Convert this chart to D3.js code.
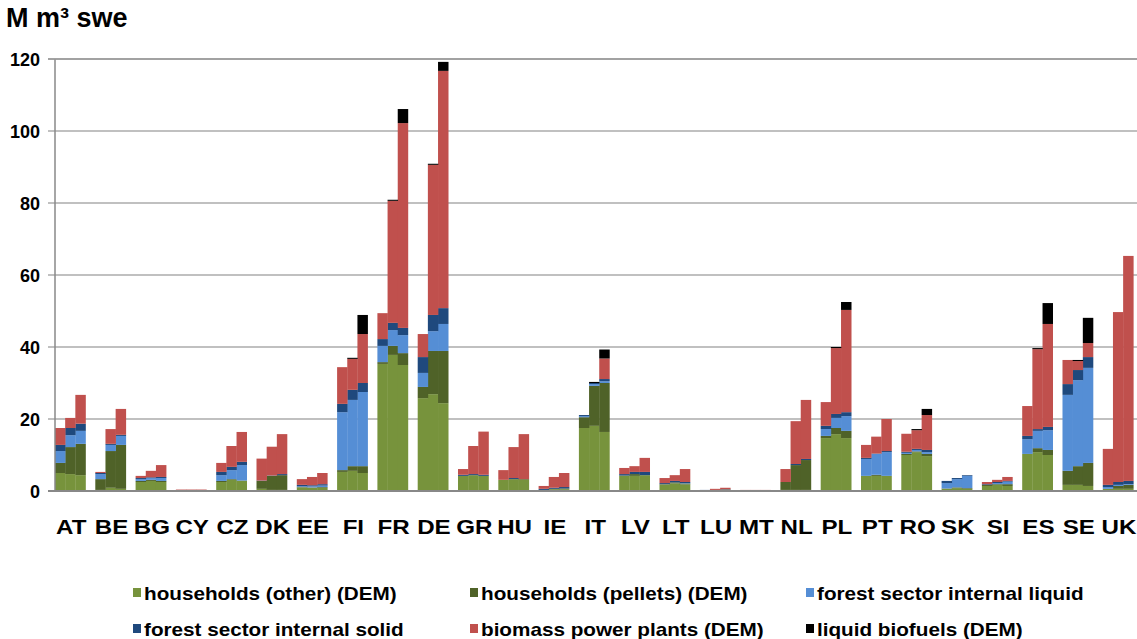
<!DOCTYPE html>
<html>
<head>
<meta charset="utf-8">
<script src="https://cdn.jsdelivr.net/npm/d3@7"></script>
<style>
  html, body { margin: 0; padding: 0; background: #fff; }
  svg { display: block; }
  text { font-family: "Liberation Sans", Arial, sans-serif; font-weight: bold; fill: #000; }
</style>
</head>
<body>
<svg id="chart" width="1137" height="639"></svg>
<script>
// ---- data ----
const countries = ["AT","BE","BG","CY","CZ","DK","EE","FI","FR","DE","GR","HU","IE","IT","LV","LT","LU","MT","NL","PL","PT","RO","SK","SI","ES","SE","UK"];
const periods = ["p1","p2","p3"];
const yTicks = [0, 20, 40, 60, 80, 100, 120];
const seriesNames = ["households (other) (DEM)","households (pellets) (DEM)","forest sector internal liquid","forest sector internal solid","biomass power plants (DEM)","liquid biofuels (DEM)"];
const seriesColors = ["#77933c","#4f6228","#558ed5","#1f497d","#c0504d","#000000"];

const householdsOther = [[5.0,4.7,4.4],[0.3,0.9,0.6],[2.5,2.8,2.5],[0,0,0],[2.5,3.1,2.8],[0.6,0.3,0.3],[1.0,0.9,0.9],[5.3,5.6,5.0],[35.3,37.8,35.0],[25.8,26.9,24.4],[4.2,4.4,4.2],[3.1,3.3,3.1],[0.3,0.5,0.5],[17.5,18.1,16.4],[4.2,4.2,4.4],[1.8,2.1,1.8],[0,0.1,0.1],[0,0,0],[0.3,0.3,0.3],[14.7,15.8,14.7],[4.2,4.2,4.2],[10.0,10.8,9.7],[0.6,0.8,0.6],[1.4,1.7,1.4],[10.3,10.8,10.0],[1.7,1.7,1.4],[0.6,0.6,0.6]];
const householdsPellets = [[2.8,7.5,8.7],[3.0,10.2,12.2],[0.3,0.3,0.3],[0,0,0],[0.3,0.2,0.1],[2.2,3.9,4.1],[0.1,0.1,0.2],[0.5,1.3,1.9],[0.5,2.5,3.3],[3.1,12.0,14.5],[0,0,0],[0,0,0.2],[0,0.1,0.2],[3.0,11.1,13.6],[0.1,0.5,0],[0.1,0.3,0.3],[0,0.2,0.3],[0,0,0],[2.2,6.9,8.3],[0.6,1.7,2.0],[0,0.3,0],[0.3,0.2,0.6],[0.1,0.2,0.2],[0.3,0.2,0.5],[0,1.1,1.4],[3.9,5.2,6.4],[0,0.8,1.1]];
const forestLiquid = [[3.3,3.3,3.6],[1.4,1.7,2.5],[0.5,0.5,0.8],[0,0,0],[1.6,2.5,4.3],[0,0,0],[0.2,0.3,0.4],[16.1,18.4,20.6],[4.5,4.4,5.0],[3.9,5.5,7.5],[0,0,0],[0,0,0],[0,0,0],[0.3,0.5,0.5],[0,0,0],[0,0,0.1],[0,0,0],[0,0,0],[0,0,0],[1.9,2.8,4.1],[4.7,5.8,6.6],[0.3,0.4,0.5],[1.5,2.3,3.4],[0,0.3,0.7],[4.1,4.8,5.5],[21.1,23.9,26.4],[0.5,0.3,0.2]];
const forestSolid = [[1.7,2.0,2.0],[0.3,0.3,0.3],[0.3,0.2,0.3],[0,0,0],[0.9,0.9,0.9],[0.1,0.1,0.3],[0.4,0.3,0.4],[2.3,2.8,2.5],[1.9,2.0,2.0],[4.4,4.5,4.4],[0.3,0.3,0.3],[0,0.3,0],[0.3,0.3,0.4],[0.3,0.3,0.6],[0.4,0.6,0.9],[0.3,0.4,0.3],[0.3,0,0.1],[0,0,0],[0,0.3,0.3],[0.9,1.1,1.1],[0.3,0.1,0.3],[0.3,0.3,0.6],[0.6,0.3,0.2],[0.2,0.3,0.2],[0.9,0.5,0.9],[3.0,2.8,3.0],[0.6,0.8,0.9]];
const biomassPower = [[4.7,2.8,8.0],[0.3,4.1,7.2],[0.6,1.8,3.3],[0.4,0.4,0.4],[2.5,5.8,8.3],[6.1,8.0,11.1],[1.6,2.3,3.1],[10.2,8.6,13.6],[7.2,33.9,56.9],[6.4,41.7,65.9],[1.6,7.8,12.0],[2.7,8.6,12.5],[0.8,3.0,3.9],[0,0,5.7],[1.7,1.6,3.9],[1.4,1.6,3.6],[0,0.3,0.4],[0.3,0.3,0.3],[3.6,11.9,16.4],[6.6,18.3,28.4],[3.6,4.7,8.9],[5.0,5.2,9.7],[0,0,0],[0.6,0.6,1.1],[8.3,22.2,28.6],[6.7,2.5,3.9],[10.0,47.2,62.5]];
const liquidBiofuels = [[0,0,0],[0,0,0],[0,0,0],[0,0,0],[0,0,0],[0,0,0],[0,0,0],[0,0.3,5.3],[0,0.3,3.9],[0,0.3,2.5],[0,0,0],[0,0,0],[0,0,0],[0,0.3,2.5],[0,0,0],[0,0,0],[0,0,0],[0,0,0],[0,0,0],[0,0.3,2.2],[0,0,0],[0,0.3,1.7],[0,0,0],[0,0,0],[0,0.3,5.8],[0,0.3,7.0],[0,0,0]];

const seriesData = [householdsOther, householdsPellets, forestLiquid, forestSolid, biomassPower, liquidBiofuels];

// ---- build rows ----
const keys = seriesNames;
const rows = [];
countries.forEach((c, ci) => {
  periods.forEach((p, pi) => {
    const r = { country: c, period: p };
    keys.forEach((k, ki) => { r[k] = seriesData[ki][ci][pi]; });
    rows.push(r);
  });
});
const stacked = d3.stack().keys(keys)(rows);

// ---- layout ----
const svg = d3.select("#chart");
const plotLeft = 55, plotRight = 1137, plotTop = 59, plotBottom = 491;

const y = d3.scaleLinear().domain([0, 120]).range([plotBottom, plotTop]);
const x = d3.scaleBand().domain(countries).range([plotLeft, 1133.3]).paddingInner(0.243).paddingOuter(0).align(0);
const xi = d3.scaleBand().domain(periods).range([0, x.bandwidth()]).padding(0);

// gridlines
svg.append("g").selectAll("line").data(yTicks.filter(d => d > 0)).join("line")
  .attr("x1", plotLeft - 7).attr("x2", plotRight)
  .attr("y1", d => y(d)).attr("y2", d => y(d))
  .attr("stroke", "#c0c0c0").attr("stroke-width", 2);

// y tick labels
svg.append("g").selectAll("text").data(yTicks).join("text")
  .attr("x", 40).attr("y", d => y(d) + 6.5)
  .attr("text-anchor", "end")
  .style("font-size", "18px")
  .text(d => d);

// bars
const colorOf = d3.scaleOrdinal().domain(keys).range(seriesColors);
svg.append("g").selectAll("g").data(stacked).join("g")
  .attr("fill", d => colorOf(d.key))
  .selectAll("rect").data(d => d).join("rect")
  .attr("x", d => x(d.data.country) + xi(d.data.period))
  .attr("width", xi.bandwidth() + 0.3)
  .attr("y", d => y(d[1]))
  .attr("height", d => Math.max(0, y(d[0]) - y(d[1])));

// axes lines
svg.append("line").attr("x1", plotLeft).attr("x2", plotLeft).attr("y1", plotTop).attr("y2", plotBottom)
  .attr("stroke", "#888").attr("stroke-width", 1.5);
svg.append("line").attr("x1", plotLeft - 7).attr("x2", plotRight).attr("y1", plotBottom).attr("y2", plotBottom)
  .attr("stroke", "#888").attr("stroke-width", 2);
svg.append("line").attr("x1", plotLeft - 7).attr("x2", plotRight).attr("y1", plotTop).attr("y2", plotTop)
  .attr("stroke", "#999").attr("stroke-width", 1.5);

// x labels
svg.append("g").selectAll("text").data(countries).join("text")
  .attr("transform", d => `translate(${x(d) + x.bandwidth() / 2 + 1},534) scale(1.15,1)`)
  .attr("text-anchor", "middle")
  .style("font-size", "21px")
  .text(d => d);

// title
svg.append("text").attr("x", 6).attr("y", 27).style("font-size", "27px").text("M m³ swe");

// legend
const legendPos = [[133,0],[470,0],[806,0],[133,1],[470,1],[806,1]];
const lg = svg.append("g").selectAll("g").data(keys).join("g")
  .attr("transform", (d, i) => `translate(${legendPos[i][0]},${593 + legendPos[i][1] * 36})`);
lg.append("rect").attr("x", 0).attr("y", -5).attr("width", 8).attr("height", 9).attr("fill", d => colorOf(d));
lg.append("text").attr("transform", "translate(11,6.5) scale(1.15,1)").style("font-size", "18px").text(d => d);
</script>
</body>
</html>
